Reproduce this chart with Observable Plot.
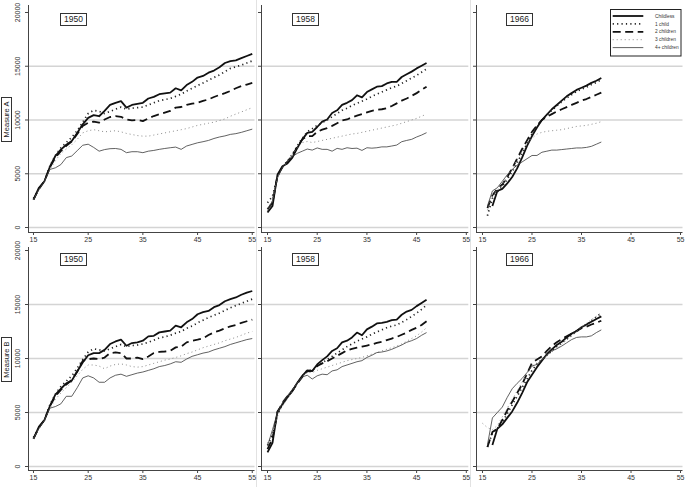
<!DOCTYPE html>
<html><head><meta charset="utf-8">
<script src="https://cdn.jsdelivr.net/npm/d3@7"></script>
<script src="https://cdn.jsdelivr.net/npm/@observablehq/plot@0.6"></script>
<style>
body{margin:0;background:#fff;}
#chart{position:relative;width:685px;height:487px;overflow:hidden;font-family:"Liberation Sans",Arial,sans-serif;background:#fff;}
.panel{position:absolute;}
.cohort{position:absolute;box-sizing:border-box;border:1px solid #333;font-size:8.5px;line-height:11px;text-align:center;color:#222;background:#fff;}
.measure{position:absolute;box-sizing:border-box;border:1px solid #333;font-size:7.5px;line-height:9px;text-align:center;color:#222;transform:rotate(-90deg);background:#fff;}
.sep{position:absolute;background:#e2e2e2;}
</style></head>
<body><div id="chart"></div>
<script>
// ---------- data ----------
const xTicks = [15, 25, 35, 45, 55];
const yTicks = [0, 5000, 10000, 15000, 20000];
const gridValues = [0, 5000, 10000, 15000];
const seriesNames = ["Childless", "1 child", "2 children", "3 children", "4+ children"];
const cohorts = ["1950", "1958", "1966"];
const measures = ["Measure A", "Measure B"];

const ages1950 = [15,16,17,18,19,20,21,22,23,24,25,26,27,28,29,30,31,32,33,34,35,36,37,38,39,40,41,42,43,44,45,46,47,48,49,50,51,52,53,54,55];
const ages1958 = [15,16,17,18,19,20,21,22,23,24,25,26,27,28,29,30,31,32,33,34,35,36,37,38,39,40,41,42,43,44,45,46,47];
const ages1966 = [15,16,17,18,19,20,21,22,23,24,25,26,27,28,29,30,31,32,33,34,35,36,37,38,39];

// Measure A, cohort 1950
const a1950Childless = [2600,3700,4300,5650,6650,7250,7700,8050,8800,9600,10200, 10450,10350,10850,11400,11600,11750,11150,11400,11500,11600, 12000,12150,12400,12480,12550,12950,12750,13250,13550,13950, 14100,14400,14600,14900,15300,15480,15550,15750,15950,16150];
const a1950One = [2700,3600,4300,5700,6700,7400,7900,8400,9000,9800,10600, 10900,10800,10600,10800,11000,11200,11000,11100,11150,11200, 11400,11600,11800,11900,12000,12200,12400,12700,12950,13200, 13450,13700,13950,14200,14500,14800,14950,15100,15300,15500];
const a1950Two = [2600,3600,4300,5600,6500,7100,7600,8000,8700,9450,9750, 9850,9750,10050,10280,10370,10300,10060,9970,10000,9900, 10150,10370,10530,10680,10840,11150,11210,11400,11520,11610, 11770,11920,12140,12330,12500,12700,12950,13150,13300,13450];
const a1950Three = [2600,3500,4200,5400,6200,6900,7300,7700,8200,8800,9000, 9100,9000,8900,8950,9000,8900,8750,8650,8550,8500, 8500,8600,8700,8800,8900,9000,9100,9200,9350,9500, 9600,9700,9800,9950,10100,10350,10550,10750,10950,11150];
const a1950Four = [2600,3500,4300,5400,5550,5850,6500,6650,7150,7650,7750, 7450,7100,7250,7330,7350,7270,6960,7050,7050,6960, 7100,7170,7270,7350,7420,7480,7270,7580,7730,7880, 7980,8100,8280,8420,8520,8660,8730,8850,9000,9150];

// Measure A, cohort 1958
const a1958Childless = [1400,2000,4900,5700,5950,6500,7400,8200,8800,8900,9350, 9850,10050,10650,10900,11400,11600,11850,12300,12100,12600, 12850,13100,13150,13400,13550,13550,14000,14250,14500,14800, 15050,15300];
const a1958One = [2300,2900,4800,5600,6200,6800,7600,8300,8900,9200,9500, 9750,10000,10300,10600,10900,11100,11350,11550,11750,11950, 12200,12400,12600,12800,13000,13150,13400,13650,13900,14150, 14450,14750];
const a1958Two = [1700,2300,4800,5600,6100,6700,7500,8200,8500,8500,8900, 9100,9250,9450,9700,9950,10050,10250,10400,10550,10700, 10850,10950,11000,11100,11300,11550,11800,12000,12250,12500, 12800,13100];
const a1958Three = [1800,2500,4700,5500,6100,6800,7400,7900,8000,7900,8000, 8100,8200,8300,8400,8500,8600,8700,8750,8850,8950, 9050,9150,9250,9350,9450,9550,9700,9850,10000,10150, 10350,10550];
const a1958Four = [1500,2500,4600,5600,6200,6600,6900,7100,7300,7200,7400, 7270,7270,7100,7360,7270,7420,7350,7380,7170,7420, 7380,7420,7500,7500,7580,7670,7980,8100,8200,8420, 8600,8820];

// Measure A, cohort 1966
const a1966Childless = [null,null,2000,3400,3600,4100,4700,5500,6500,7600,8500, 9300,10000,10500,11000,11400,11800,12200,12500,12800,13000, 13200,13450,13650,13900];
const a1966One = [null,1100,2700,3300,3800,4500,5200,6000,6900,7800,8700, 9400,10000,10450,10900,11300,11700,12050,12350,12650,12850, 13050,13300,13500,13750];
const a1966Two = [null,1800,3000,3600,4000,4700,5500,6400,7300,8100,8900, 9500,10000,10300,10550,10800,11000,11200,11400,11600,11800, 11950,12150,12350,12550];
const a1966Three = [null,1600,3100,3500,4000,4800,5500,6300,7100,7800,8300, 8700,8850,8950,9000,9050,9100,9200,9300,9400,9450, 9500,9600,9700,9850];
const a1966Four = [null,2000,3400,3700,4300,4900,5400,5800,6100,6400,6700, 6700,7000,7100,7200,7200,7250,7300,7350,7400,7400, 7450,7550,7750,7950];

// Measure B, cohort 1950
const b1950Childless = [2550,3700,4300,5600,6650,7200,7700,7950,8800,9630,10300, 10500,10500,10800,11340,11580,11740,11180,11430,11500,11650, 12050,12100,12420,12500,12580,13040,12890,13350,13650,14100, 14290,14400,14750,14950,15300,15500,15650,15900,16100,16250];
const b1950One = [2700,3600,4300,5700,6700,7400,7900,8400,9100,9900,10600, 10900,10800,10700,10900,11100,11300,11100,11200,11250,11350, 11500,11700,11900,12000,12150,12350,12500,12800,13000,13300, 13550,13800,14000,14200,14450,14700,14900,15100,15300,15500];
const b1950Two = [2600,3600,4300,5600,6500,7100,7600,8000,8800,9780,9940, 10000,9950,10090,10500,10560,10500,10000,10000,10090,9940, 10190,10500,10620,10650,10710,11030,11100,11490,11650,11740, 11860,12170,12420,12580,12800,12980,13110,13300,13450,13600];
const b1950Three = [2600,3500,4200,5400,6200,6800,7300,7800,8400,9000,9400, 9400,9300,9050,9300,9450,9500,9400,9250,9200,9250, 9400,9550,9700,9850,9950,10100,10250,10450,10600,10800, 11000,11150,11300,11450,11650,11800,11950,12150,12350,12500];
const b1950Four = [2600,3500,4300,5400,5550,5800,6500,6500,7300,8200,8400, 8200,7800,7800,8200,8450,8550,8350,8500,8650,8750, 8900,9050,9250,9350,9500,9700,9650,9950,10200,10350, 10500,10600,10800,10950,11100,11300,11450,11600,11750,11850];

// Measure B, cohort 1958
const b1958Childless = [1300,2200,5100,5750,6400,7000,7750,8400,8900,8850,9450, 9850,10200,10700,10950,11500,11650,11950,12400,12150,12700, 12950,13250,13300,13400,13550,13600,14050,14350,14500,14850, 15150,15450];
const b1958One = [2000,2900,4800,5800,6400,7000,7700,8400,8900,8900,9300, 9600,9900,10200,10500,10800,11100,11350,11600,11800,12000, 12250,12450,12650,12850,13000,13100,13350,13600,13900,14200, 14550,14950];
const b1958Two = [1600,2600,5000,5900,6500,7000,7700,8300,8800,8850,9300, 9550,9750,10000,10250,10500,10750,10900,11000,11100,11200, 11300,11450,11550,11700,11850,12000,12200,12400,12650,12850, 13100,13450];
const b1958Three = [2200,3000,4700,5600,6300,7000,7700,8300,8700,8700,8900, 9050,9200,9350,9500,9650,9800,9900,10000,10100,10250, 10400,10550,10700,10850,11000,11150,11350,11600,11850,12100, 12450,12850];
const b1958Four = [1900,3400,5000,5900,6550,7150,7750,8300,8450,8100,8400, 8550,8500,8850,8950,9250,9400,9550,9700,9800,10100, 10300,10550,10600,10700,10850,11050,11250,11500,11650,11850, 12150,12400];

// Measure B, cohort 1966
const b1966Childless = [null,null,2000,3500,3900,4500,5100,5900,6800,7800,8500, 9200,9800,10400,10850,11250,11550,11950,12300,12550,12900, 13150,13400,13650,13900];
const b1966One = [null,1800,3100,3500,4100,4900,5700,6500,7300,8100,8900, 9500,9900,10300,10700,11100,11450,11800,12150,12500,12850, 13150,13500,13850,14200];
const b1966Two = [null,1800,3200,3500,4300,5200,6000,6800,7600,8600,9600, 9900,10200,10700,11150,11500,11800,12050,12300,12550,12800, 12950,13150,13300,13500];
const b1966Three = [4000,3600,3400,3800,4600,5400,6200,7000,7800,8600,9300, 9600,9900,10300,10600,10900,11300,11700,12100,12500,12900, 13250,13600,13900,14250];
const b1966Four = [null,2000,4500,5000,5500,6400,7200,7700,8150,8700,9300, 9450,9900,10300,10700,10900,11150,11450,11750,11950,12000, 12000,12100,12400,12650];

// ---------- assemble ----------
const agesByCohort = {"1950": ages1950, "1958": ages1958, "1966": ages1966};
const table = {
  "Measure A": {
    "1950": [a1950Childless, a1950One, a1950Two, a1950Three, a1950Four],
    "1958": [a1958Childless, a1958One, a1958Two, a1958Three, a1958Four],
    "1966": [a1966Childless, a1966One, a1966Two, a1966Three, a1966Four]
  },
  "Measure B": {
    "1950": [b1950Childless, b1950One, b1950Two, b1950Three, b1950Four],
    "1958": [b1958Childless, b1958One, b1958Two, b1958Three, b1958Four],
    "1966": [b1966Childless, b1966One, b1966Two, b1966Three, b1966Four]
  }
};

const styles = {
  "Childless":   {stroke: "#111", strokeWidth: 1.8},
  "1 child":     {stroke: "#222", strokeWidth: 1.7, strokeDasharray: "1.2,3.2"},
  "2 children":  {stroke: "#111", strokeWidth: 1.8, strokeDasharray: "8,4.5"},
  "3 children":  {stroke: "#8c8c8c", strokeWidth: 1.0, strokeDasharray: "1,3"},
  "4+ children": {stroke: "#3a3a3a", strokeWidth: 0.8}
};

const cols = [
  {left: 0,   width: 256, marginLeft: 28, marginRight: 1.5, xDomain: [14.09, 55.5]},
  {left: 257, width: 213, marginLeft: 4,  marginRight: 1.7, xDomain: [13.79, 55.5]},
  {left: 471, width: 214, marginLeft: 5,  marginRight: 2.5, xDomain: [13.79, 55.5]}
];
const rows = [
  {top: 0,   height: 250, marginTop: 5, marginBottom: 18, yDomain: [-465, 20651]},
  {top: 245, height: 242, marginTop: 2, marginBottom: 17, yDomain: [-370, 20278]}
];

const chart = document.getElementById("chart");

measures.forEach((m, ri) => {
  cohorts.forEach((c, ci) => {
    const col = cols[ci], row = rows[ri];
    const ages = agesByCohort[c];
    const lineMarks = seriesNames.map((s, si) => {
      const vals = table[m][c][si];
      const data = ages.map((a, i) => ({age: a, value: vals[i]}));
      return Plot.line(data, {x: "age", y: "value", ...styles[s], strokeLinejoin: "round", strokeLinecap: "butt", defined: d => d.value != null});
    });
    const marks = [
      Plot.ruleY(gridValues, {stroke: "#d4d4d4", strokeWidth: 1.6}),
      Plot.ruleX([col.xDomain[0]], {stroke: "#444", strokeWidth: 1}),
      Plot.ruleY([row.yDomain[0]], {stroke: "#444", strokeWidth: 1}),
      Plot.axisX({ticks: xTicks, tickSize: 3, tickPadding: 2, label: null, fontSize: 7, stroke: "#444", fill: "#333"}),
      Plot.axisY({ticks: yTicks, tickSize: 3, label: null, tickFormat: () => "", stroke: "#444"}),
      ...lineMarks
    ];
    if (ci === 0) {
      marks.push(Plot.text(yTicks, {y: d => d, text: d => String(d), frameAnchor: "left", textAnchor: "middle", lineAnchor: "middle", rotate: -90, dx: -11, fontSize: 7, fill: "#333"}));
    }
    const svg = Plot.plot({
      width: col.width, height: row.height,
      marginLeft: col.marginLeft, marginRight: col.marginRight,
      marginTop: row.marginTop, marginBottom: row.marginBottom,
      x: {domain: col.xDomain}, y: {domain: row.yDomain},
      style: {background: "none", fontFamily: "'Liberation Sans', Arial, sans-serif", overflow: "visible"},
      marks
    });
    svg.classList.add("panel");
    svg.style.left = col.left + "px";
    svg.style.top = row.top + "px";
    chart.appendChild(svg);
  });
});

// separators between sub-graphs
[[256, 0, 1, 487], [470, 0, 1, 487]].forEach(([l, t, w, h]) => {
  const d = document.createElement("div");
  d.className = "sep";
  Object.assign(d.style, {left: l + "px", top: t + "px", width: w + "px", height: h + "px"});
  chart.insertBefore(d, chart.firstChild);
});

// cohort labels
const cohortBoxes = [
  {c: "1950", left: 60, top: 13}, {c: "1958", left: 292, top: 13}, {c: "1966", left: 506, top: 13},
  {c: "1950", left: 60, top: 253}, {c: "1958", left: 292, top: 253}, {c: "1966", left: 506, top: 253}
];
cohortBoxes.forEach(b => {
  const d = document.createElement("div");
  d.className = "cohort";
  d.textContent = b.c;
  Object.assign(d.style, {left: b.left + "px", top: b.top + "px", width: "27px", height: "13px"});
  chart.appendChild(d);
});

// measure labels
[{t: measures[0], cy: 119.5}, {t: measures[1], cy: 359.5}].forEach(b => {
  const d = document.createElement("div");
  d.className = "measure";
  d.textContent = b.t;
  const w = 45, h = 11;
  Object.assign(d.style, {left: (6.7 - w / 2) + "px", top: (b.cy - h / 2) + "px", width: w + "px", height: h + "px"});
  chart.appendChild(d);
});

// legend
const lg = d3.select(chart).append("svg")
  .attr("width", 72).attr("height", 48)
  .style("position", "absolute").style("left", "610px").style("top", "9px");
lg.append("rect").attr("x", 0.5).attr("y", 0.5).attr("width", 70.5).attr("height", 46.5)
  .attr("fill", "#fff").attr("stroke", "#222").attr("stroke-width", 1);
seriesNames.forEach((s, i) => {
  const y = 7 + i * 7.9;
  const st = styles[s];
  lg.append("line").attr("x1", 2.7).attr("x2", 33.3).attr("y1", y).attr("y2", y)
    .attr("stroke", st.stroke).attr("stroke-width", st.strokeWidth)
    .attr("stroke-dasharray", st.strokeDasharray || null);
  lg.append("text").attr("x", 45).attr("y", y).attr("dy", "0.35em")
    .attr("font-size", 4.8).attr("fill", "#333")
    .attr("font-family", "'Liberation Sans', Arial, sans-serif").text(s);
});
</script>
</body></html>
